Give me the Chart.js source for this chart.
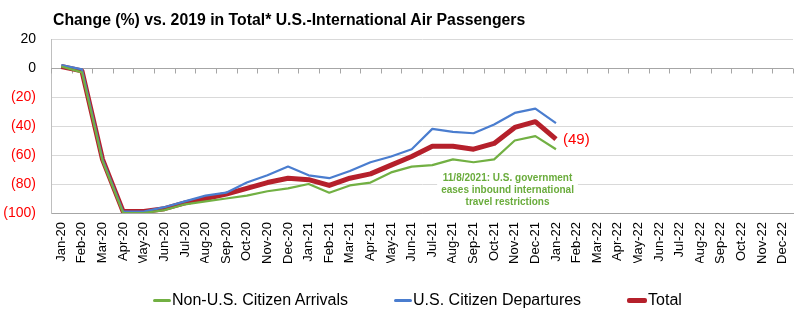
<!DOCTYPE html>
<html>
<head>
<meta charset="utf-8">
<script src="https://cdn.jsdelivr.net/npm/chart.js@4.4.1/dist/chart.umd.min.js"></script>
<style>
  html, body { margin: 0; padding: 0; background: #fff; }
  #wrap { position: relative; width: 810px; height: 323px; font-family: "Liberation Sans", Arial, sans-serif; }
  #title { position: absolute; left: 53px; top: 12px; font-size: 15.8px; line-height: 15px; font-weight: bold; color: #000; white-space: nowrap; }
  #legend { position: absolute; left: 153px; top: 291px; height: 18px; display: flex; align-items: center; font-size: 16px; color: #000; }
  .item { display: flex; align-items: center; margin-right: 46px; }
  .swatch { margin-right: 1px; }
</style>
</head>
<body>
<div id="wrap">
  <canvas id="chart" width="810" height="323"></canvas>
  <div id="title">Change (%) vs. 2019 in Total* U.S.-International Air Passengers</div>
  <div id="legend"></div>
</div>
<script>
const months = [
  "Jan-20", "Feb-20", "Mar-20", "Apr-20", "May-20", "Jun-20", "Jul-20", "Aug-20", "Sep-20", "Oct-20", "Nov-20", "Dec-20",
  "Jan-21", "Feb-21", "Mar-21", "Apr-21", "May-21", "Jun-21", "Jul-21", "Aug-21", "Sep-21", "Oct-21", "Nov-21", "Dec-21",
  "Jan-22", "Feb-22", "Mar-22", "Apr-22", "May-22", "Jun-22", "Jul-22", "Aug-22", "Sep-22", "Oct-22", "Nov-22", "Dec-22"
];
// values, Jan-20 .. Jan-22
const nonUsArrivals = [1, -3, -64, -100, -100, -98, -94, -92, -90, -88, -85, -83, -80, -86, -81, -79, -72, -68, -67, -63, -65, -63, -50, -47, -56];
const usDepartures = [2, -1, -63, -99, -99, -96, -92, -88, -86, -79, -74, -68, -74, -76, -71, -65, -61, -56, -42, -44, -45, -39, -31, -28, -38];
const totalPax = [1, -2, -63, -99, -99, -97, -93, -90, -87, -83, -79, -76, -77, -81, -76, -73, -67, -61, -54, -54, -56, -52, -41, -37, -49];
const yTicks = [20, 0, -20, -40, -60, -80, -100];
const noteLines = ["11/8/2021: U.S. government", "eases inbound international", "travel restrictions"];

const FONT = "'Liberation Sans', Arial, sans-serif";
const RED_TEXT = "#ff0000";

function fmt(v) {
  return v < 0 ? "(" + (-v) + ")" : String(v);
}

// zero line with the little tick marks between months
const zeroAxis = {
  id: "zeroAxis",
  beforeDatasetsDraw(chart) {
    const { ctx, chartArea, scales: { x, y } } = chart;
    const y0 = Math.round(y.getPixelForValue(0)) + 0.5;
    ctx.save();
    ctx.strokeStyle = "#a6a6a6";
    ctx.lineWidth = 1;
    ctx.beginPath();
    ctx.moveTo(chartArea.left, y0);
    ctx.lineTo(chartArea.right, y0);
    const n = months.length;
    for (let i = 0; i <= n; i++) {
      let px;
      if (i === 0) px = chartArea.left;
      else if (i === n) px = chartArea.right;
      else px = (x.getPixelForValue(i - 1) + x.getPixelForValue(i)) / 2;
      px = Math.round(px) + 0.5;
      ctx.moveTo(px, y0);
      ctx.lineTo(px, y0 + 5);
    }
    ctx.stroke();
    ctx.restore();
  }
};

const notes = {
  id: "notes",
  afterDatasetsDraw(chart) {
    const { ctx, scales: { x, y } } = chart;
    // last total value label
    const meta = chart.getDatasetMeta(2);
    const last = meta.data[totalPax.length - 1];
    ctx.save();
    ctx.font = "15px " + FONT;
    ctx.fillStyle = RED_TEXT;
    ctx.textAlign = "left";
    ctx.textBaseline = "middle";
    ctx.fillText(fmt(totalPax[totalPax.length - 1]), last.x + 7, last.y + 1);

    // green note with white box
    ctx.font = "bold 10px " + FONT;
    const cx = x.getPixelForValue(21.65);
    const cy = y.getPixelForValue(-84.5);
    const lh = 12;
    let w = 0;
    noteLines.forEach(t => { w = Math.max(w, ctx.measureText(t).width); });
    ctx.fillStyle = "#fff";
    ctx.fillRect(cx - w / 2 - 4, cy - lh * 1.5 - 3, w + 8, lh * 3 + 6);
    ctx.fillStyle = "#6aac3c";
    ctx.textAlign = "center";
    noteLines.forEach((t, i) => {
      ctx.fillText(t, cx, cy + (i - 1) * lh);
    });
    ctx.restore();
  }
};

const datasets = [
  { label: "Non-U.S. Citizen Arrivals", data: nonUsArrivals, borderColor: "#72b043", borderWidth: 2.2 },
  { label: "U.S. Citizen Departures", data: usDepartures, borderColor: "#4a7dcf", borderWidth: 2.2 },
  { label: "Total", data: totalPax, borderColor: "#b5202b", borderWidth: 5 }
];

new Chart(document.getElementById("chart"), {
  type: "line",
  data: {
    labels: months,
    datasets: datasets.map(d => Object.assign({
      pointRadius: 0,
      tension: 0,
      fill: false,
      borderJoinStyle: "round",
      borderCapStyle: "butt"
    }, d))
  },
  options: {
    responsive: false,
    animation: false,
    layout: { padding: { top: 39, left: 0, right: 17, bottom: 60 } },
    plugins: {
      legend: { display: false },
      title: { display: false },
      tooltip: { enabled: false }
    },
    scales: {
      x: {
        offset: true,
        grid: { display: false, drawTicks: false },
        border: { display: true, color: "#a6a6a6" },
        afterFit: (scale) => { scale.height = 50; },
        ticks: {
          autoSkip: false,
          maxRotation: 90,
          minRotation: 90,
          padding: 9,
          color: "#000",
          font: { family: FONT, size: 13 }
        }
      },
      y: {
        min: -100,
        max: 20,
        afterFit: (scale) => { scale.width = 51; },
        afterBuildTicks: (scale) => {
          const ticks = [];
          for (let v = -100; v <= 20; v += 10) ticks.push({ value: v });
          scale.ticks = ticks;
        },
        grid: {
          drawTicks: false,
          color: (c) => (c.tick && c.tick.value === -100 ? "#a6a6a6" : "#d9d9d9"),
          lineWidth: 1
        },
        border: { display: true, color: "#bfbfbf" },
        ticks: {
          padding: 15,
          color: (c) => (c.tick && c.tick.value < 0 ? RED_TEXT : "#000"),
          font: { family: FONT, size: 14 },
          callback: (v) => (yTicks.includes(v) ? fmt(v) : "")
        }
      }
    }
  },
  plugins: [zeroAxis, notes]
});

// legend drawn as html under the plot
const legendEl = document.getElementById("legend");
datasets.forEach(d => {
  const item = document.createElement("div");
  item.className = "item";
  const sw = document.createElement("span");
  sw.className = "swatch";
  sw.style.display = "inline-block";
  sw.style.width = (d.borderWidth > 3 ? 20 : 18) + "px";
  sw.style.height = (d.borderWidth > 3 ? 5 : 3) + "px";
  sw.style.borderRadius = "2px";
  sw.style.background = d.borderColor;
  const txt = document.createElement("span");
  txt.textContent = d.label;
  item.appendChild(sw);
  item.appendChild(txt);
  legendEl.appendChild(item);
});
</script>
</body>
</html>
